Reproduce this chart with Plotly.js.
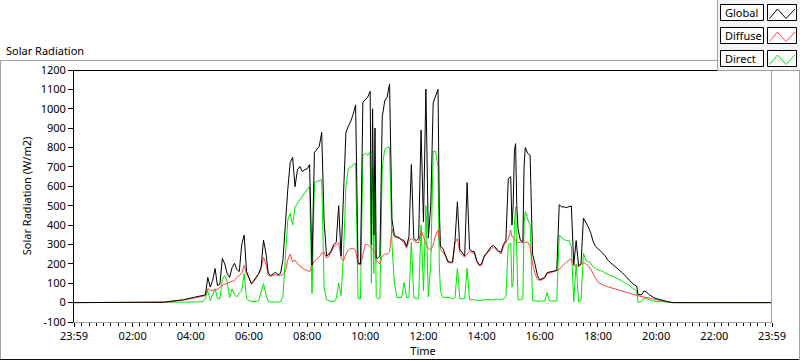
<!DOCTYPE html>
<html><head><meta charset="utf-8">
<script src="https://cdn.plot.ly/plotly-3.0.1.min.js"></script>
<style>html,body{margin:0;padding:0;background:#fff;}#chart{width:800px;height:361px;}</style>
</head><body><div id="chart"></div>
<script>
// time in minutes since midnight (-1 = 23:59 of previous day)
const timeMin = [-1,180,185,190,195,200,205,210,215,220,225,230,235,
240,245,250,255,260,265,270,275,280,285,290,295,
300,305,310,315,320,325,330,335,340,345,350,355,
360,365,370,375,380,385,390,395,400,405,410,415,
420,425,430,435,440,445,450,455,460,465,470,475,
480,485,490,495,500,505,510,515,520,525,530,535,
540,545,550,555,560,565,570,575,580,585,590,595,
600,605,610,612.5,615,617.5,620,622.5,625,630,635,640,645,650,655,
660,665,670,675,680,685,690,695,700,705,710,715,
720,725,730,735,740,745,750,752.5,755,760,765,770,775,
780,785,790,795,800,805,810,815,820,825,830,835,
840,845,850,855,860,865,870,875,880,885,890,895,
900,902.5,905,907.5,910,912.5,915,920,925,927.5,930,935,940,945,950,955,
960,965,970,975,980,985,990,995,1000,1005,1010,1015,
1020,1025,1030,1035,1040,1045,1050,1055,1060,1065,1070,1075,
1080,1085,1090,1095,1100,1105,1110,1115,1120,1125,1130,1135,
1140,1145,1150,1155,1160,1162.5,1165,1170,1175,1180,1185,1190,1195,
1200,1205,1210,1215,1220,1225,1230,1235,1439];

const globalRad = [0,0,2,4,5,7,8,10,12,13,15,17,19,
24,26,29,31,33,35,40,130,80,115,176,88,
95,228,200,150,130,180,203,170,160,300,348,160,
130,98,114,130,150,182,322,255,150,140,150,156,
145,150,218,426,582,722,749,598,686,702,676,686,
690,712,192,775,790,806,878,420,240,250,270,300,
310,500,240,600,878,910,936,972,1020,205,200,1034,
1045,1060,1090,300,1000,350,900,230,228,240,960,1040,1060,1128,430,
345,340,335,325,320,290,340,712,330,320,330,890,
416,1102,333,500,1030,1066,1100,500,290,280,250,215,208,
210,320,520,275,255,240,619,275,265,262,215,195,
200,240,255,270,290,295,280,265,260,300,320,640,
650,400,500,780,820,500,380,320,315,700,800,770,760,250,200,140,
118,122,130,155,158,160,163,166,505,494,494,490,
495,498,195,320,190,200,436,415,390,360,315,290,
280,270,255,240,220,208,198,188,178,168,155,142,
128,115,102,92,84,42,40,40,60,55,42,33,26,
21,17,13,9,6,4,2,0,0];

const diffuseRad = [0,0,2,4,5,7,8,10,11,12,14,16,18,
22,24,27,29,31,33,37,72,62,64,66,68,
80,90,95,100,105,110,114,130,140,150,192,150,
125,95,110,125,145,175,234,200,140,135,140,145,
140,140,145,160,220,250,210,220,200,190,180,170,
165,160,190,215,225,235,255,260,230,240,262,290,
295,310,230,215,250,270,280,280,270,200,195,250,
300,300,290,280,275,265,260,215,210,200,240,250,250,260,380,
340,335,330,320,310,280,320,330,320,310,310,370,
340,300,280,270,300,348,374,330,275,260,240,210,205,
205,310,330,260,245,235,250,265,258,255,210,190,
192,235,250,265,280,285,275,260,250,290,310,330,
374,340,340,330,320,320,310,310,312,312,312,312,290,200,150,120,
115,118,126,148,152,156,158,162,170,185,200,210,
218,225,190,190,185,195,208,200,190,172,145,125,
105,98,92,86,82,78,74,70,66,62,58,55,
52,48,44,40,36,35,34,32,30,27,24,21,18,
15,12,10,8,5,3,1,0,0];

const directRad = [0,0,0,0,0,0,0,0,0,0,0,0,0,
1,2,3,3,4,5,20,62,10,40,72,20,
20,120,140,110,26,70,40,30,50,60,150,20,
10,5,5,5,10,50,98,40,5,3,3,3,
3,3,30,250,426,460,400,494,510,530,550,565,
580,600,47,620,625,630,634,80,15,10,5,5,
20,100,36,250,600,690,700,710,720,20,20,760,
770,760,780,100,700,150,650,30,21,21,700,790,800,800,300,
100,26,26,26,104,26,26,312,26,20,20,400,
60,500,30,200,780,780,700,200,60,26,26,26,26,
20,26,177,20,20,20,177,15,15,15,10,10,
12,15,15,15,12,15,20,15,15,20,30,300,
307,80,100,400,494,150,15,15,20,411,470,430,400,10,8,8,
8,8,8,52,8,8,8,8,348,335,325,320,
320,290,5,200,5,10,255,218,210,203,185,175,
170,166,160,152,145,140,135,130,125,118,110,104,
98,88,78,68,58,3,3,5,26,20,15,10,8,
6,5,5,4,3,2,1,0,0];

const seriesNames = ['Global','Diffuse','Direct'];
const seriesColors = ['#000000','#ff4444','#00e600'];
const xTickVals = [-1,120,240,360,480,600,720,840,960,1080,1200,1320,1439];
const xTickText = ['23:59','02:00','04:00','06:00','08:00','10:00','12:00','14:00','16:00','18:00','20:00','22:00','23:59'];
const yTickVals = [-100,0,100,200,300,400,500,600,700,800,900,1000,1100,1200];
const yTickText = ['-100','0','100','200','300','400','500','600','700','800','900','1000','1100','1200'];

const FONT = 'Noto Sans, Open Sans, sans-serif';
// plot area in pixels
const L = 74, R = 772, T = 70, B = 322;
const px = v => (v - L) / (R - L);
const py = v => (B - v) / (B - T);

const seriesValues = [globalRad, diffuseRad, directRad];
const traces = [2,1,0].map(i => ({
  type: 'scatter', mode: 'lines', name: seriesNames[i],
  x: timeMin, y: seriesValues[i],
  line: {color: seriesColors[i], width: 1},
  hoverinfo: 'skip'
}));

function line(x0,y0,x1,y1,color){
  return {type:'line', xref:'paper', yref:'paper', x0:px(x0), y0:py(y0), x1:px(x1), y1:py(y1),
          line:{color:color, width:1}, layer:'above'};
}
function rect(x0,y0,x1,y1,fill,lineColor){
  return {type:'rect', xref:'paper', yref:'paper', x0:px(x0), y0:py(y0), x1:px(x1), y1:py(y1),
          fillcolor:fill, line:{color:lineColor||'rgba(0,0,0,0)', width: lineColor?1:0}, layer:'above'};
}
function zig(top, color){
  const pts = [[769.5, top+12.5],[777.5, top+3],[786, top+12.5],[795, top+3]];
  const d = 'M ' + pts.map(p => px(p[0]) + ',' + py(p[1])).join(' L ');
  return {type:'path', xref:'paper', yref:'paper', path:d, line:{color:color,width:1}, layer:'above'};
}

const shapes = [
  line(0, 60.5, 800, 60.5, '#a0a0a0'),
  line(0.5, 60.5, 0.5, 360, '#a0a0a0'),
  line(0, 359.5, 800, 359.5, '#101010'),
  line(799.5, 60.5, 799.5, 360, '#a0a0a0'),
  line(L, 70.5, R, 70.5, '#000000'),
  line(771.5, 70, 771.5, 322, '#a0a0a0'),
  rect(717, 0, 800, 71, '#f4f4f4'),
  line(717.5, 0, 717.5, 71, '#a0a0a0'),
  line(717, 70.5, 800, 70.5, '#a0a0a0')
];
const boxTops = [4.5, 27.5, 50.5];
const annotations = [
  {xref:'paper', yref:'paper', x:px(4), y:py(50), xanchor:'left', yanchor:'middle', showarrow:false,
   text:'Solar Radiation', font:{family:FONT, size:11, color:'#000'}}
];
seriesNames.forEach((n,i) => {
  const t = boxTops[i];
  shapes.push(rect(720.5, t, 763.5, t+16, '#ffffff', '#000000'));
  shapes.push(rect(767.5, t, 796.5, t+16, '#ffffff', '#000000'));
  shapes.push(zig(t+1.5, seriesColors[i]));
  annotations.push({xref:'paper', yref:'paper', x:px(722.5), y:py(t+8), xanchor:'left', yanchor:'middle',
    showarrow:false, text:n, font:{family:FONT, size:11, color:'#000'}});
});

const layout = {
  width: 800, height: 361,
  margin: {l: L, r: 800 - R, t: T, b: 361 - B, pad: 0},
  paper_bgcolor: '#ffffff', plot_bgcolor: '#ffffff',
  font: {family: FONT, size: 11, color: '#000'},
  showlegend: false,
  hovermode: false,
  xaxis: {
    range: [-1, 1439], autorange: false,
    tickmode: 'array', tickvals: xTickVals, ticktext: xTickText,
    ticks: 'outside', ticklen: 4, tickcolor: '#000', tickwidth: 1,
    minor: {tick0: 0, dtick: 15, ticks: 'outside', ticklen: 3, tickcolor: '#000', showgrid: false},
    showline: true, linecolor: '#a0a0a0', linewidth: 1,
    showgrid: false, zeroline: false,
    tickfont: {family: FONT, size: 11, color: '#000'},
    title: {text: 'Time', standoff: 4, font: {family: FONT, size: 11, color: '#000'}}
  },
  yaxis: {
    range: [-100, 1200], autorange: false,
    tickmode: 'array', tickvals: yTickVals, ticktext: yTickText,
    ticks: 'outside', ticklen: 5, tickcolor: '#000', tickwidth: 1,
    showline: true, linecolor: '#000', linewidth: 1,
    showgrid: false, zeroline: false,
    tickfont: {family: FONT, size: 11, color: '#000'},
    title: {text: 'Solar Radiation (W/m2)', standoff: 6, font: {family: FONT, size: 11, color: '#000'}}
  },
  shapes: shapes,
  annotations: annotations
};

Plotly.newPlot('chart', traces, layout, {staticPlot: true, displayModeBar: false});
</script></body></html>
